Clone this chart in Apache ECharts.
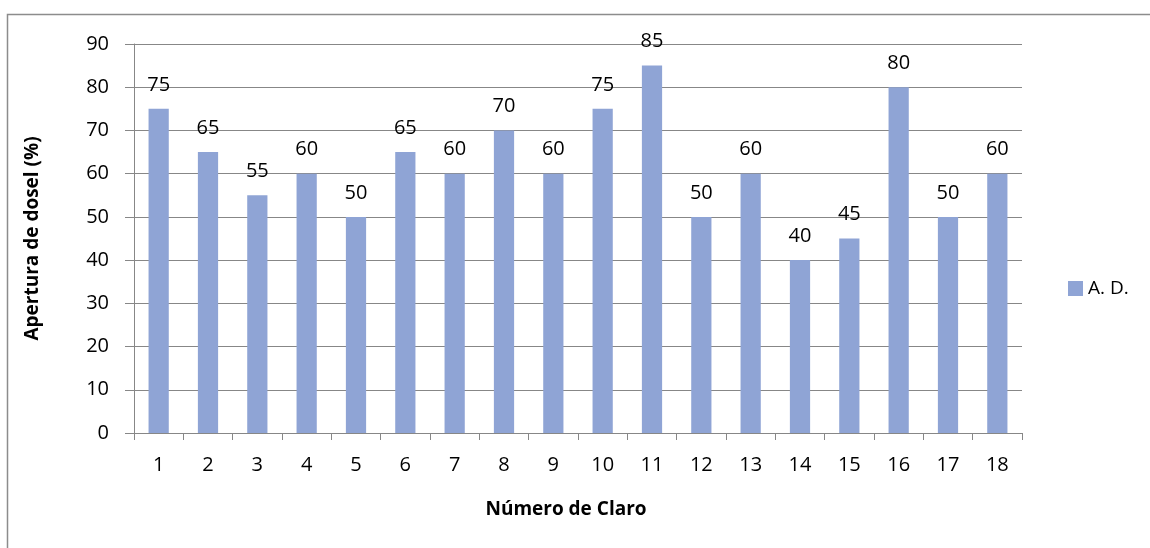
<!DOCTYPE html>
<html>
<head>
<meta charset="utf-8">
<script src="https://cdn.jsdelivr.net/npm/echarts@6/dist/echarts.min.js"></script>
<style>
  html, body { margin: 0; padding: 0; background: #fff; }
  #chart { width: 1150px; height: 548px; }
</style>
</head>
<body>
<div id="chart"></div>
<script>
// Canopy opening per clearing
const categories = ['1','2','3','4','5','6','7','8','9','10','11','12','13','14','15','16','17','18'];
const aperturaValues = [75, 65, 55, 60, 50, 65, 60, 70, 60, 75, 85, 50, 60, 40, 45, 80, 50, 60];
const seriesName = 'A. D.';
const yTicks = { min: 0, max: 90, interval: 10 };

const FONT = '"Open Sans", "Liberation Sans", sans-serif';
const GRID_COLOR = '#878787';
const BAR_COLOR = '#8FA4D5';

const chart = echarts.init(document.getElementById('chart'), null, { renderer: 'canvas' });

chart.setOption({
  animation: false,
  backgroundColor: '#fff',
  textStyle: { fontFamily: FONT },
  graphic: [{
    type: 'rect',
    shape: { x: 7.5, y: 14.5, width: 1300, height: 700 },
    style: { fill: 'none', stroke: '#8c8c8c', lineWidth: 1.5 },
    silent: true
  }],
  grid: { left: 134, right: 128, top: 44, bottom: 115 },
  legend: {
    data: [seriesName],
    left: 1063,
    top: 274,
    itemWidth: 15,
    itemHeight: 15,
    itemGap: 6,
    icon: 'rect',
    textStyle: { fontFamily: FONT, fontSize: 19, color: '#000' }
  },
  xAxis: {
    type: 'category',
    data: categories,
    name: 'Número de Claro',
    nameLocation: 'middle',
    nameGap: 67,
    nameTextStyle: { fontFamily: FONT, fontSize: 19, fontWeight: 'bold', color: '#000', padding: [0, 24, 0, 0] },
    axisLine: { lineStyle: { color: GRID_COLOR, width: 1 } },
    axisTick: { show: true, length: 7, alignWithLabel: false, lineStyle: { color: GRID_COLOR } },
    axisLabel: { fontFamily: FONT, fontSize: 20, color: '#000', margin: 22 }
  },
  yAxis: {
    type: 'value',
    min: yTicks.min,
    max: yTicks.max,
    interval: yTicks.interval,
    name: 'Apertura de dosel (%)',
    nameLocation: 'middle',
    nameGap: 92,
    nameTextStyle: { fontFamily: FONT, fontSize: 19, fontWeight: 'bold', color: '#000' },
    axisLine: { show: true, lineStyle: { color: GRID_COLOR, width: 1 } },
    axisTick: { show: true, length: 9, lineStyle: { color: GRID_COLOR } },
    axisLabel: { fontFamily: FONT, fontSize: 20, color: '#000', margin: 25 },
    splitLine: { show: true, lineStyle: { color: GRID_COLOR, width: 1 } }
  },
  series: [{
    name: seriesName,
    type: 'bar',
    data: aperturaValues,
    barWidth: '41%',
    itemStyle: { color: BAR_COLOR },
    label: {
      show: true,
      position: 'top',
      distance: 14,
      fontFamily: FONT,
      fontSize: 20,
      color: '#000'
    }
  }]
});
</script>
</body>
</html>
